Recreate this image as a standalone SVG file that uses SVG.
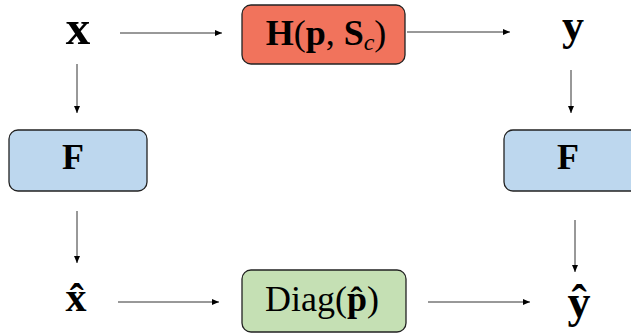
<svg xmlns="http://www.w3.org/2000/svg" width="631" height="335" viewBox="0 0 631 335">
<defs>
<marker id="ah" markerWidth="8" markerHeight="8" refX="7" refY="4" orient="auto" markerUnits="userSpaceOnUse">
<path d="M0,1 L7,4 L0,7 Z" fill="#000"/>
</marker>
<style>
.c{stroke:#333;stroke-width:1;fill:none;marker-end:url(#ah)}
.box{stroke:#222;stroke-width:1.3}
.m{font-family:"Liberation Serif","DejaVu Serif",serif;font-weight:bold;fill:#000;text-anchor:middle}
.r{font-family:"Liberation Serif","DejaVu Serif",serif;fill:#000;text-anchor:middle}
</style>
</defs>
<rect width="631" height="335" fill="#fff"/>
<g id="connectors">
<line class="c" x1="120" y1="33" x2="222" y2="33"/>
<line class="c" x1="407" y1="32" x2="510" y2="32"/>
<line class="c" x1="77" y1="64" x2="77" y2="113"/>
<line class="c" x1="571" y1="70" x2="571" y2="113"/>
<line class="c" x1="77" y1="211" x2="77" y2="263"/>
<line class="c" x1="575" y1="220" x2="575" y2="272"/>
<line class="c" x1="118" y1="302" x2="219" y2="302"/>
<line class="c" x1="428" y1="302" x2="530" y2="302"/>
</g>
<g id="x"><text class="m" x="78" y="44" font-size="49">x</text></g>
<g id="H"><rect class="box" x="242" y="5" width="163" height="59" rx="9" fill="#F1735C"/>
<text class="r" x="326" y="45" font-size="36"><tspan font-weight="bold">H</tspan>(<tspan font-weight="bold">p</tspan>, <tspan font-weight="bold">S</tspan><tspan font-style="italic" font-size="24" dy="5">c</tspan><tspan dy="-5">)</tspan></text></g>
<g id="y"><text class="m" x="573" y="40" font-size="44">y</text></g>
<g id="F1"><rect class="box" x="9" y="130" width="138" height="61" rx="9" fill="#BDD7EE"/>
<text class="m" x="73" y="169" font-size="36">F</text></g>
<g id="F2"><rect class="box" x="504" y="130" width="138" height="61" rx="9" fill="#BDD7EE"/>
<text class="m" x="568" y="169" font-size="36">F</text></g>
<g id="xhat"><text class="m" x="76" y="311" font-size="42">x̂</text></g>
<g id="Diag"><rect class="box" x="242" y="270" width="164" height="62" rx="9" fill="#C5E0B4"/>
<text class="r" x="322" y="311" font-size="36">Diag(<tspan font-weight="bold">p̂</tspan>)</text></g>
<g id="yhat"><text class="m" x="579" y="317" font-size="46">ŷ</text></g>
</svg>
